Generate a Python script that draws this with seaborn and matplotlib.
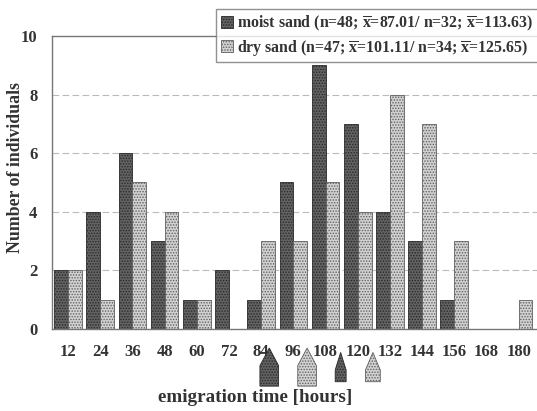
import numpy as np
import pandas as pd
import matplotlib
matplotlib.use('Agg')
import matplotlib.pyplot as plt
from matplotlib.patches import Polygon
from matplotlib.transforms import blended_transform_factory
import seaborn as sns

# Data
hours = [12, 24, 36, 48, 60, 72, 84, 96, 108, 120, 132, 144, 156, 168, 180]
moist = [2, 4, 6, 3, 1, 2, 1, 5, 9, 7, 4, 3, 1, 0, 0]
dry = [2, 1, 5, 4, 1, 0, 3, 3, 5, 4, 8, 7, 3, 0, 1]
labels = [r'moist sand (n=48; $\overline{\mathrm{x}}$=87.01/ n=32; $\overline{\mathrm{x}}$=113.63)',
          r'dry sand (n=47; $\overline{\mathrm{x}}$=101.11/ n=34; $\overline{\mathrm{x}}$=125.65)']
# group means marked by arrows below the axis (moist, dry, moist, dry)
means = [87.01, 101.11, 113.63, 125.65]
mean_group = [0, 1, 0, 1]
mean_big = [True, True, False, False]

df = pd.DataFrame({
    'hours': [str(h) for h in hours] * 2,
    'count': moist + dry,
    'group': [labels[0]] * len(hours) + [labels[1]] * len(hours),
})

sns.set_style('white')
plt.rcParams['font.family'] = ['Liberation Serif', 'DejaVu Serif']
plt.rcParams['font.weight'] = 'bold'
plt.rcParams['mathtext.fontset'] = 'custom'
plt.rcParams['mathtext.rm'] = 'Liberation Serif:bold'
plt.rcParams['mathtext.it'] = 'Liberation Serif:bold'
plt.rcParams['mathtext.bf'] = 'Liberation Serif:bold'
plt.rcParams['hatch.linewidth'] = 0.7

face = ['#626262', '#d2d2d2']
edge = ['#2a2a2a', '#606060']

fig = plt.figure(figsize=(5.37, 4.11), dpi=100)
ax = fig.add_axes([52 / 537, 1 - 329 / 411, (537 - 52) / 537, (329 - 36) / 411])

sns.barplot(data=df, x='hours', y='count', hue='group', palette=face,
            width=0.86, saturation=1, legend=False, ax=ax)

for i, cont in enumerate(ax.containers):
    for p in cont:
        p.set_edgecolor(edge[i])
        p.set_linewidth(0.6)
        p.set_hatch('......')

ax.set_ylim(0, 10)
ax.set_xlim(-0.5, 14.57)
ax.set_yticks([0, 2, 4, 6, 8, 10])
ax.tick_params(axis='both', length=0, labelsize=12, colors='#333333')
ax.tick_params(axis='y', pad=10.5)
ax.tick_params(axis='x', pad=11)
for t in ax.get_xticklabels() + ax.get_yticklabels():
    t.set_fontweight('bold')
ax.set_xlabel('')
ax.set_ylabel('')
for y in [2, 4, 6, 8]:
    ax.axhline(y, color='#bbbbbb', lw=0.8, ls=(0, (6, 3)), zorder=0)
for s in ['left', 'top', 'bottom']:
    ax.spines[s].set_color('#777777')
    ax.spines[s].set_linewidth(1.0)
ax.spines['right'].set_visible(False)

# mean arrows below the x axis
tr = blended_transform_factory(ax.transData, ax.transAxes)
for m, g, big in zip(means, mean_group, mean_big):
    xc = (m - 12) / 12
    hw = 0.29 if big else (0.17 if g == 0 else 0.23)
    top = -0.065 if big else -0.08
    shoulder = top - 0.06
    bottom = -0.195 if big else -0.18
    pts = [(xc - hw, bottom), (xc - hw, shoulder), (xc, top),
           (xc + hw, shoulder), (xc + hw, bottom)]
    ax.add_patch(Polygon(pts, closed=True, transform=tr, clip_on=False,
                         facecolor=face[g], edgecolor=edge[g], lw=0.6,
                         hatch='......'))

fig.text(255 / 537, 1 - 397 / 411, 'emigration time [hours]', ha='center',
         va='center', fontsize=13.8, fontweight='bold', color='#333333')
fig.text(16 / 537, 1 - 168 / 411, 'Number of individuals', ha='center',
         va='center', rotation=90, fontsize=12.8, fontweight='bold', color='#333333')

leg = ax.legend(ax.containers, labels, loc='upper left',
                bbox_to_anchor=(216 / 537, 1 - 9 / 411), bbox_transform=fig.transFigure,
                fancybox=False, frameon=True, fontsize=11.4, handlelength=0.8,
                handleheight=0.8, handletextpad=0.25, borderpad=0.3, labelspacing=0.3,
                borderaxespad=0)
leg.get_frame().set_edgecolor('#777777')
leg.get_frame().set_linewidth(1.0)
for t in leg.get_texts():
    t.set_color('#333333')

fig.savefig('out.png', dpi=100)
